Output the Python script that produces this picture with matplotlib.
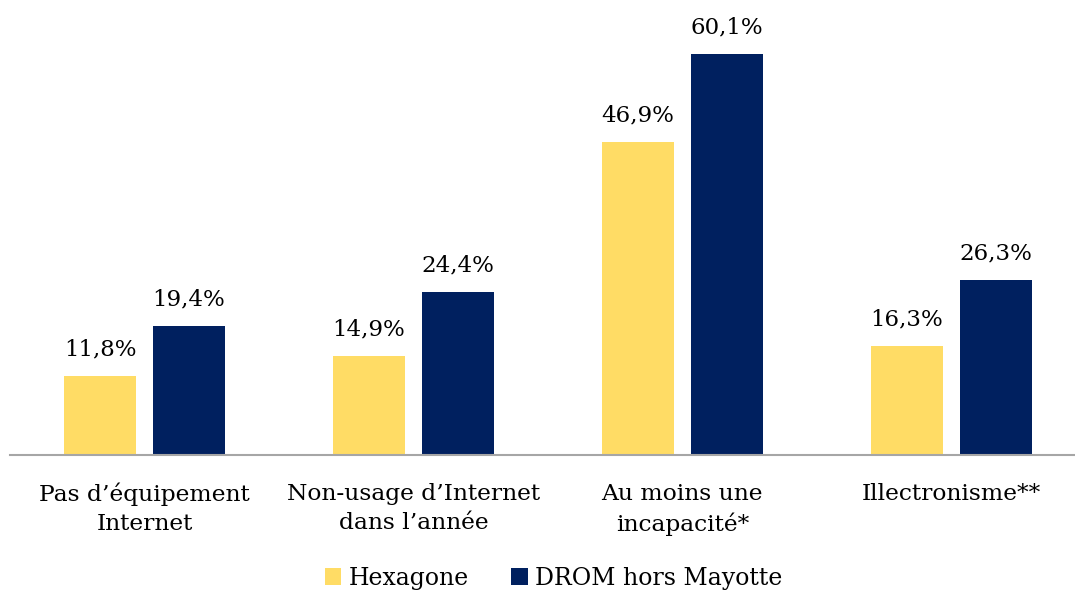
import numpy as np
import matplotlib.pyplot as plt

plt.rcParams['font.family'] = ['DejaVu Serif']

categories = ["Pas d\u2019\u00e9quipement\nInternet",
              "Non-usage d\u2019Internet\ndans l\u2019ann\u00e9e",
              "Au moins une\nincapacit\u00e9*",
              "Illectronisme**"]
hexagone = [11.8, 14.9, 46.9, 16.3]
drom = [19.4, 24.4, 60.1, 26.3]
series_names = ["Hexagone", "DROM hors Mayotte"]

c_hex = "#FFDC65"
c_drom = "#00205F"

fig = plt.figure(figsize=(10.75, 5.94), dpi=100)
ax = fig.add_axes([10 / 1075, 139 / 594, 1065 / 1075, 455 / 594])

x = np.arange(len(categories))
w = 0.268
off = 0.165

b1 = ax.bar(x - off, hexagone, w, color=c_hex, label=series_names[0])
b2 = ax.bar(x + off, drom, w, color=c_drom, label=series_names[1])

for bars, vals in [(b1, hexagone), (b2, drom)]:
    for bar, v in zip(bars, vals):
        ax.text(bar.get_x() + bar.get_width() / 2, v + 2.3,
                f"{v:.1f}%".replace(".", ","),
                ha="center", va="bottom", fontsize=16.5)

ax.set_xlim(-0.5, 3.46)
ax.set_ylim(0, 68.2)
ax.set_yticks([])
ax.set_xticks(x)
ax.set_xticklabels(categories, fontsize=16.8, linespacing=1.4)
ax.tick_params(axis="x", length=0, pad=20)
for s in ["top", "right", "left"]:
    ax.spines[s].set_visible(False)
ax.spines["bottom"].set_color("#A6A6A6")
ax.spines["bottom"].set_linewidth(1.5)

fig.legend(handles=[b1, b2], loc="center", bbox_to_anchor=(0.515, 16 / 594),
           ncol=2, frameon=False, fontsize=17, handlelength=0.7,
           handleheight=0.7, handletextpad=0.3, columnspacing=1.8)

fig.savefig("out.png", dpi=100)
